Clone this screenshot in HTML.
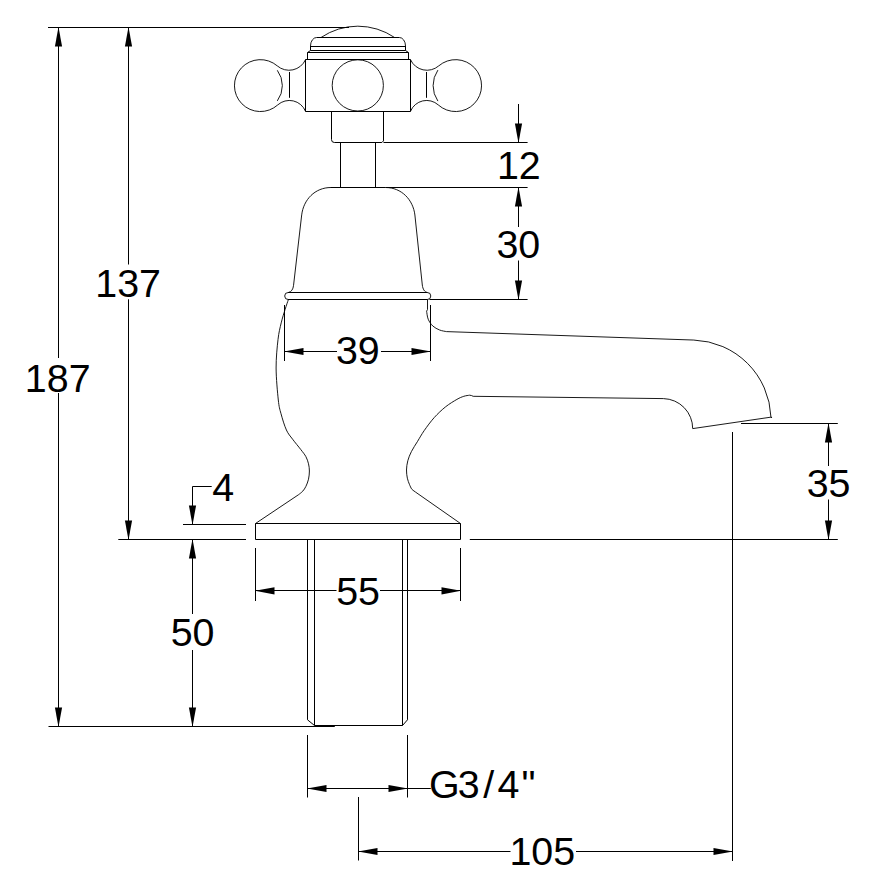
<!DOCTYPE html>
<html lang="en">
<head>
<meta charset="utf-8">
<title>Basin tap - dimension drawing</title>
<style>
html,body{margin:0;padding:0;background:#fff;}
body{width:878px;height:891px;overflow:hidden;}
svg{display:block;}
.o{fill:none;stroke:#000;stroke-width:1;stroke-linecap:butt;stroke-linejoin:miter;}
.c{fill:none;stroke:#000;stroke-width:0.9;stroke-linecap:butt;stroke-linejoin:round;}
.d{fill:none;stroke:#000;stroke-width:1;}
.a{fill:#000;stroke:none;}
text{font-family:"Liberation Sans", sans-serif;fill:#000;}
</style>
</head>
<body>
<svg width="878" height="891" viewBox="0 0 878 891">
<rect width="878" height="891" fill="#fff"/>
<g class="c">
<path d="M321,37.5 A65.5,65.5 0 0 1 394.6,37.5"/>
<path d="M310.5,46 A6.1,8.5 0 0 1 316.6,37.5 M399.4,37.5 A6.1,8.5 0 0 1 405.5,46"/>
<path d="M332.20,85.40 a25.60,25.60 0 1 0 51.20,0 a25.60,25.60 0 1 0 -51.20,0"/>
<path d="M305.50,59.70 A18.08,18.08 0 0 1 277.29,65.90 A25.95,25.95 0 1 0 277.74,104.91 A17.41,17.41 0 0 1 305.50,111.30"/>
<path d="M277.3,70.3 A25.7,25.7 0 0 1 277.3,100.9"/>
<path d="M410.50,59.70 A18.08,18.08 0 0 0 438.71,65.90 A25.95,25.95 0 1 1 438.26,104.91 A17.41,17.41 0 0 0 410.50,111.30"/>
<path d="M437.9,70.1 A27.4,27.4 0 0 0 437.9,101.1"/>
<path d="M331,187.5 C314.8,187.5 303.5,199.8 301.7,214.9 L293.55,285.3 C293.1,289.5 291.4,291.8 288.4,292.5"/>
<path d="M385.5,187.5 C401.6,187.5 413.1,199.8 414.9,215 L422.3,285 C422.9,289.5 424.5,291.8 427.3,292.5"/>
<path d="M427.3,292.5 A3.5,3.5 0 0 1 427.3,299.5 M288.2,299.5 A3.5,3.5 0 0 1 288.2,292.5"/>
<path d="M288.30,299.80 C287.77,301.40 286.28,305.55 285.10,309.40 C283.92,313.25 282.38,317.87 281.20,322.90 C280.02,327.93 278.85,332.08 278.00,339.60 C277.15,347.12 276.05,357.93 276.10,368.00 C276.15,378.07 277.48,392.38 278.30,400.00 C279.12,407.62 279.65,408.70 281.00,413.70 C282.35,418.70 284.47,425.75 286.40,430.00 C288.33,434.25 290.21,435.95 292.60,439.20 C294.99,442.45 298.53,446.59 300.75,449.50 C302.97,452.41 304.61,454.27 305.90,456.65 C307.19,459.03 307.92,461.41 308.50,463.80 C309.08,466.19 309.40,468.43 309.40,471.00 C309.40,473.57 309.08,476.63 308.50,479.20 C307.92,481.77 306.85,484.42 305.90,486.40 C304.95,488.38 304.00,489.73 302.80,491.10 C301.60,492.47 299.38,494.02 298.70,494.60 L255.5,523.5"/>
<path d="M427.5,299.5 V309.5 L426.6,311.2 C426.87,312.53 427.17,316.73 428.20,319.20 C429.23,321.67 430.90,324.20 432.80,326.00 C434.70,327.80 437.33,329.07 439.60,330.00 C441.87,330.93 445.27,331.33 446.40,331.60 L693.8,340.05 A80,80 0 0 1 770.95,417 L771.8,417.9 L771.3,417.1 L692.7,428.6 A30,30 0 0 0 663.5,398.6 L473.2,396.3 Q471.5,395.3 469.5,395.2 C468.55,395.38 465.90,395.60 463.80,396.30 C461.70,397.00 459.93,397.65 456.90,399.40 C453.87,401.15 449.38,403.77 445.60,406.80 C441.82,409.83 437.77,413.63 434.20,417.60 C430.63,421.57 426.97,426.65 424.20,430.60 C421.43,434.55 419.73,437.82 417.60,441.30 C415.48,444.78 413.08,448.26 411.45,451.50 C409.82,454.74 408.62,457.67 407.80,460.75 C406.98,463.83 406.57,467.09 406.50,470.00 C406.43,472.91 406.87,475.82 407.35,478.20 C407.83,480.58 408.72,482.53 409.40,484.30 C410.08,486.07 411.11,488.05 411.45,488.80 Q412.6,490.2 415.55,492.1 L460.5,523.5"/>
</g>
<g class="o">
<path d="M310.5,50.5 V46 M316.6,37.5 H399.4 M405.5,46 V50.5"/>
<path d="M310.5,46.5 H405.5"/>
<path d="M310.5,50.5 H405.5"/>
<path d="M310.5,50.5 L307.5,52.5 V59.5 M405.5,50.5 L408.5,52.5 V59.5 M307.5,52.5 H408.5"/>
<path d="M305.5,59.5 H410.5 V111.5 H305.5 Z"/>
<path d="M289.5,72 V97.8"/>
<path d="M426.5,72 V97.8"/>
<path d="M331.5,111.5 V139.6 Q331.5,142.5 334.4,142.5 H381.9 L383.5,140.9 V111.5"/>
<path d="M340.5,142.5 V187.5 M375.5,142.5 V187.5"/>
<path d="M331,187.5 H385.5"/>
<path d="M288,292.5 H427.5 M288,299.5 H427.5"/>
<path d="M255.5,523.5 H460.5 V539.5 H255.5 Z"/>
<path d="M307.5,539.5 V719.8 L314.5,725.5 H402.5 L407.5,719.8 V539.5 M314.5,539.5 V725.5 M402.5,539.5 V725.5"/>
</g>
<g class="d">
<path d="M48.00,27.50 L349.00,27.50"/>
<path d="M58.50,27.50 L58.50,358.00"/>
<path d="M58.50,393.00 L58.50,726.50"/>
<path d="M128.50,27.50 L128.50,264.50"/>
<path d="M128.50,299.30 L128.50,539.50"/>
<path d="M48.50,726.50 L334.80,726.50"/>
<path d="M118.30,539.50 L246.00,539.50"/>
<path d="M183.00,524.50 L246.00,524.50"/>
<path d="M192.50,486.50 L192.50,524.50"/>
<path d="M192.50,486.50 L211.70,486.50"/>
<path d="M192.50,539.50 L192.50,614.00"/>
<path d="M192.50,650.00 L192.50,726.50"/>
<path d="M383.50,142.50 L527.60,142.50"/>
<path d="M385.50,187.50 L527.60,187.50"/>
<path d="M429.50,299.50 L527.60,299.50"/>
<path d="M518.50,104.00 L518.50,142.50"/>
<path d="M518.50,187.50 L518.50,227.00"/>
<path d="M518.50,260.50 L518.50,299.50"/>
<path d="M284.50,305.00 L284.50,361.00"/>
<path d="M430.50,305.00 L430.50,361.00"/>
<path d="M284.50,351.50 L337.00,351.50"/>
<path d="M381.00,351.50 L430.50,351.50"/>
<path d="M741.00,423.50 L837.80,423.50"/>
<path d="M469.80,539.50 L837.80,539.50"/>
<path d="M828.50,423.50 L828.50,466.00"/>
<path d="M828.50,499.50 L828.50,539.50"/>
<path d="M255.50,548.00 L255.50,601.00"/>
<path d="M460.50,548.00 L460.50,601.00"/>
<path d="M255.50,590.50 L336.50,590.50"/>
<path d="M380.00,590.50 L460.50,590.50"/>
<path d="M307.50,735.00 L307.50,797.50"/>
<path d="M407.50,735.00 L407.50,797.50"/>
<path d="M307.50,788.50 L430.80,788.50"/>
<path d="M358.50,797.00 L358.50,860.50"/>
<path d="M732.50,432.00 L732.50,861.00"/>
<path d="M358.50,851.50 L510.50,851.50"/>
<path d="M576.00,851.50 L732.50,851.50"/>
</g>
<g class="a">
<polygon points="58.50,27.00 54.90,46.50 62.10,46.50"/>
<polygon points="58.50,727.00 54.90,707.50 62.10,707.50"/>
<polygon points="128.50,27.00 124.90,46.50 132.10,46.50"/>
<polygon points="128.50,540.00 124.90,520.50 132.10,520.50"/>
<polygon points="192.50,525.00 188.90,505.50 196.10,505.50"/>
<polygon points="192.50,539.00 188.90,558.50 196.10,558.50"/>
<polygon points="192.50,727.00 188.90,707.50 196.10,707.50"/>
<polygon points="518.50,143.00 514.90,123.50 522.10,123.50"/>
<polygon points="518.50,187.00 514.90,206.50 522.10,206.50"/>
<polygon points="518.50,300.00 514.90,280.50 522.10,280.50"/>
<polygon points="284.00,351.50 303.50,347.90 303.50,355.10"/>
<polygon points="431.00,351.50 411.50,347.90 411.50,355.10"/>
<polygon points="828.50,423.00 824.90,442.50 832.10,442.50"/>
<polygon points="828.50,540.00 824.90,520.50 832.10,520.50"/>
<polygon points="255.00,590.80 274.50,587.20 274.50,594.40"/>
<polygon points="461.00,590.80 441.50,587.20 441.50,594.40"/>
<polygon points="307.00,788.50 326.50,784.90 326.50,792.10"/>
<polygon points="408.00,788.50 388.50,784.90 388.50,792.10"/>
<polygon points="358.00,851.50 377.50,847.90 377.50,855.10"/>
<polygon points="733.00,851.50 713.50,847.90 713.50,855.10"/>
</g>
<g>
<text x="57.70" y="391.70" text-anchor="middle" font-size="39.40">187</text>
<text x="128.10" y="297.40" text-anchor="middle" font-size="39.40">137</text>
<text x="223.10" y="500.60" text-anchor="middle" font-size="39.40">4</text>
<text x="192.60" y="646.40" text-anchor="middle" font-size="39.40">50</text>
<text x="518.80" y="179.00" text-anchor="middle" font-size="39.40">12</text>
<text x="518.30" y="257.70" text-anchor="middle" font-size="39.40">30</text>
<text x="357.80" y="364.30" text-anchor="middle" font-size="39.40">39</text>
<text x="828.60" y="496.60" text-anchor="middle" font-size="39.40">35</text>
<text x="358.10" y="605.30" text-anchor="middle" font-size="39.40">55</text>
<text y="798.2" text-anchor="middle" font-size="39.40"><tspan x="444.4">G</tspan><tspan x="468.8">3</tspan><tspan x="488.8">/</tspan><tspan x="508.5">4</tspan><tspan x="528.4">"</tspan></text>
<text x="542.30" y="865.30" text-anchor="middle" font-size="39.40">105</text>
</g>
</svg>
</body>
</html>
